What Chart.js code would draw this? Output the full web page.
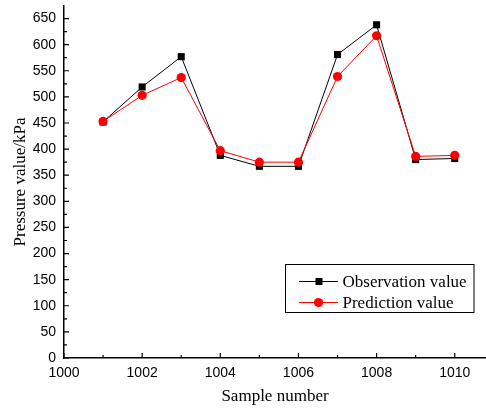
<!DOCTYPE html>
<html>
<head>
<meta charset="utf-8">
<script src="https://cdn.jsdelivr.net/npm/chart.js@4/dist/chart.umd.min.js"></script>
<style>
  html, body { margin: 0; padding: 0; background: #fff; }
  #wrap { width: 486px; height: 409px; }
</style>
</head>
<body>
<div id="wrap"><canvas id="chart"></canvas></div>
<script>
// Données
const samples = [1001, 1002, 1003, 1004, 1005, 1006, 1007, 1008, 1009, 1010];
const observation = [452, 519, 577, 388, 367, 367, 581, 638, 380, 382];
const prediction = [453, 503, 537, 397, 375, 375, 539, 617, 386, 388];
const xTicks = [1000, 1002, 1004, 1006, 1008, 1010];
const xMinor = [1001, 1003, 1005, 1007, 1009];
const yTicks = [0, 50, 100, 150, 200, 250, 300, 350, 400, 450, 500, 550, 600, 650];
const yMinor = [25, 75, 125, 175, 225, 275, 325, 375, 425, 475, 525, 575, 625];
const legendLabels = ["Observation value", "Prediction value"];

const serif = "'Liberation Serif', 'Times New Roman', serif";
const sans = "'Liberation Sans', Arial, sans-serif";

// Petits traits vers l'intérieur + légende dans la zone du graphique
const decor = {
  id: 'decor',
  afterDraw(chart) {
    const ctx = chart.ctx;
    const xs = chart.scales.x, ys = chart.scales.y;
    const area = chart.chartArea;
    ctx.save();
    ctx.strokeStyle = '#000';
    ctx.lineWidth = 1.2;
    ctx.beginPath();
    xTicks.forEach(v => { const p = xs.getPixelForValue(v); ctx.moveTo(p, area.bottom); ctx.lineTo(p, area.bottom - 5); });
    xMinor.forEach(v => { const p = xs.getPixelForValue(v); ctx.moveTo(p, area.bottom); ctx.lineTo(p, area.bottom - 3); });
    yTicks.forEach(v => { const p = ys.getPixelForValue(v); ctx.moveTo(area.left, p); ctx.lineTo(area.left + 5, p); });
    yMinor.forEach(v => { const p = ys.getPixelForValue(v); ctx.moveTo(area.left, p); ctx.lineTo(area.left + 3, p); });
    ctx.stroke();

    // Légende
    const bx = 285.5, by = 264.5, bw = 188.5, bh = 48;
    ctx.lineWidth = 1;
    ctx.strokeRect(bx, by, bw, bh);
    const rows = [281.5, 302.5];
    const colors = ['#000', '#ff0000'];
    ctx.font = '17px ' + serif;
    ctx.textBaseline = 'middle';
    ctx.textAlign = 'left';
    rows.forEach((y, i) => {
      ctx.strokeStyle = colors[i];
      ctx.fillStyle = colors[i];
      ctx.beginPath();
      ctx.moveTo(299, y); ctx.lineTo(338, y);
      ctx.stroke();
      if (i === 0) {
        ctx.fillRect(315.5, y - 3.5, 7, 7);
      } else {
        ctx.beginPath();
        ctx.arc(318.5, y, 4.6, 0, Math.PI * 2);
        ctx.fill();
      }
      ctx.fillStyle = '#000';
      ctx.fillText(legendLabels[i], 342.5, y + 1);
    });
    ctx.restore();
  }
};

const noPad = s => { s.paddingLeft = 0; s.paddingRight = 0; s.paddingTop = 0; s.paddingBottom = 0; };

new Chart(document.getElementById('chart'), {
  type: 'line',
  data: {
    labels: samples,
    datasets: [
      {
        label: legendLabels[0],
        data: samples.map((s, i) => ({ x: s, y: observation[i] })),
        borderColor: '#000',
        backgroundColor: '#000',
        borderWidth: 1,
        pointStyle: 'rect',
        pointRadius: 5,
        pointBorderWidth: 0,
        tension: 0,
        order: 2
      },
      {
        label: legendLabels[1],
        data: samples.map((s, i) => ({ x: s, y: prediction[i] })),
        borderColor: '#ff0000',
        backgroundColor: '#ff0000',
        borderWidth: 1,
        pointStyle: 'circle',
        pointRadius: 4.6,
        pointBorderWidth: 0,
        tension: 0,
        order: 1
      }
    ]
  },
  options: {
    responsive: true,
    maintainAspectRatio: false,
    animation: false,
    layout: { autoPadding: false, padding: { top: 6, right: 0, left: 0, bottom: 0 } },
    plugins: {
      legend: { display: false },
      tooltip: { enabled: false }
    },
    scales: {
      x: {
        type: 'linear',
        min: 1000,
        max: 1010.8,
        afterBuildTicks: s => { s.ticks = xTicks.map(v => ({ value: v })); },
        afterFit: s => { s.height = 51; noPad(s); },
        grid: { display: false, drawTicks: false },
        border: { display: true, color: '#000', width: 1.5 },
        ticks: { color: '#000', font: { family: sans, size: 14 }, padding: 7, maxRotation: 0, autoSkip: false, callback: v => String(v) },
        title: { display: true, text: 'Sample number', color: '#000', font: { family: serif, size: 17 }, padding: { top: 2, bottom: 2 } }
      },
      y: {
        min: 0,
        max: 674,
        afterBuildTicks: s => { s.ticks = yTicks.map(v => ({ value: v })); },
        afterFit: s => { s.width = 64; noPad(s); },
        grid: { display: false, drawTicks: false },
        border: { display: true, color: '#000', width: 1.5 },
        ticks: { color: '#000', font: { family: sans, size: 14 }, padding: 8, autoSkip: false, callback: v => String(v) },
        title: { display: true, text: 'Pressure value/kPa', color: '#000', font: { family: serif, size: 17 }, padding: { top: 10, bottom: 0 } }
      }
    }
  },
  plugins: [decor]
});
</script>
</body>
</html>
